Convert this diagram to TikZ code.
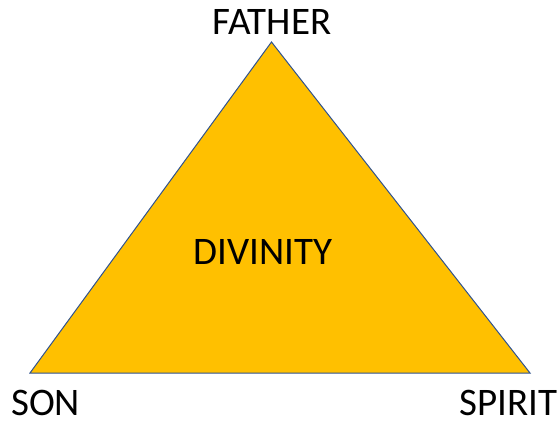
\documentclass[tikz,border=0pt]{standalone}
\usepackage{fontspec}
\setmainfont{Carlito}
\usetikzlibrary{positioning}
\definecolor{gold}{HTML}{FFC000}
\definecolor{edge}{HTML}{2F528F}
\tikzset{
  tri/.style={draw=edge,fill=gold,line width=1pt,line join=miter},
  lbl/.style={font=\fontsize{39}{46}\selectfont,text=black,inner sep=0pt},
}
\begin{document}
\begin{tikzpicture}[x=1pt,y=-1pt]
  \useasboundingbox (0,0) rectangle (560,422);
  \coordinate (top)   at (271.5,42);
  \coordinate (left)  at (30,373);
  \coordinate (right) at (530,373);

  \draw[tri] (top) -- (left) -- (right) -- cycle;

  \node[lbl,anchor=base]      (father) at (272,35)  {FATHER};
  \node[lbl,anchor=base west] (son)    at (11,415)  {SON};
  \node[lbl,anchor=base east] (spirit) at (558,415) {SPIRIT};
  \node[lbl]                  (div)    at (263,252) {DIVINITY};
\end{tikzpicture}
\end{document}
